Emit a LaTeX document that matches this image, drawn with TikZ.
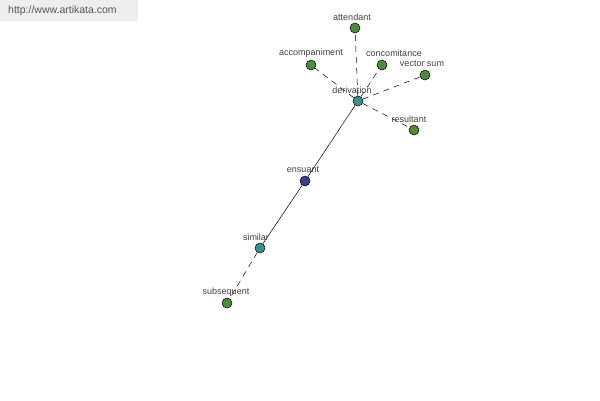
\documentclass[tikz,border=0pt]{standalone}
\usepackage{fontspec}
\setmainfont{Liberation Sans}
\definecolor{leafgreen}{HTML}{4E8A3E}
\definecolor{tealnode}{HTML}{3F8F8C}
\definecolor{bluenode}{HTML}{3A3F8F}
\definecolor{labelgray}{HTML}{404040}
\definecolor{headerbg}{HTML}{EEEEEE}
\definecolor{urlgray}{HTML}{555555}
\tikzset{
  dot/.style={circle,draw=black,line width=0.5pt,minimum size=10pt,inner sep=0pt},
  leaf/.style={dot,fill=leafgreen},
  mid/.style={dot,fill=tealnode},
  hub/.style={dot,fill=bluenode},
  lbl/.style={font=\fontsize{9}{11}\selectfont,text=labelgray,inner sep=0pt},
  dashlink/.style={draw=black,line width=0.5pt,dash pattern=on 6pt off 5pt},
  solidlink/.style={draw=black,line width=0.5pt}
}
\begin{document}
\begin{tikzpicture}[x=1pt,y=-1pt]
\useasboundingbox (0,0) rectangle (600,400);
\fill[white] (0,0) rectangle (600,400);
\fill[headerbg] (0,0) rectangle (138,21);
\node[font=\fontsize{10.5}{12}\selectfont,text=urlgray,anchor=west,inner sep=0pt] (url) at (8,11) {http://www.artikata.com};

\node[mid] (derivation) at (358,101) {};
\node[leaf] (attendant) at (355,28) {};
\node[leaf] (accompaniment) at (311,65) {};
\node[leaf] (concomitance) at (382,65) {};
\node[leaf] (vectorsum) at (425,75) {};
\node[leaf] (resultant) at (414,130) {};
\node[hub] (ensuant) at (305,181) {};
\node[mid] (similar) at (260,248) {};
\node[leaf] (subsequent) at (227,303) {};

\draw[dashlink] (derivation) -- (attendant);
\draw[dashlink] (derivation) -- (accompaniment);
\draw[dashlink] (derivation) -- (concomitance);
\draw[dashlink] (derivation) -- (vectorsum);
\draw[dashlink] (derivation) -- (resultant);
\draw[solidlink] (derivation) -- (ensuant);
\draw[solidlink] (ensuant) -- (similar);
\draw[dashlink] (similar) -- (subsequent);

\node[lbl] (tattendant) at (352,17) {attendant};
\node[lbl] (taccompaniment) at (311,53) {accompaniment};
\node[lbl] (tconcomitance) at (394,53) {concomitance};
\node[lbl] (tvectorsum) at (422,64) {vector sum};
\node[lbl] (tderivation) at (352,90) {derivation};
\node[lbl] (tresultant) at (409,119) {resultant};
\node[lbl] (tensuant) at (303,170) {ensuant};
\node[lbl] (tsimilar) at (256,237) {similar};
\node[lbl] (tsubsequent) at (226,292) {subsequent};
\end{tikzpicture}
\end{document}
